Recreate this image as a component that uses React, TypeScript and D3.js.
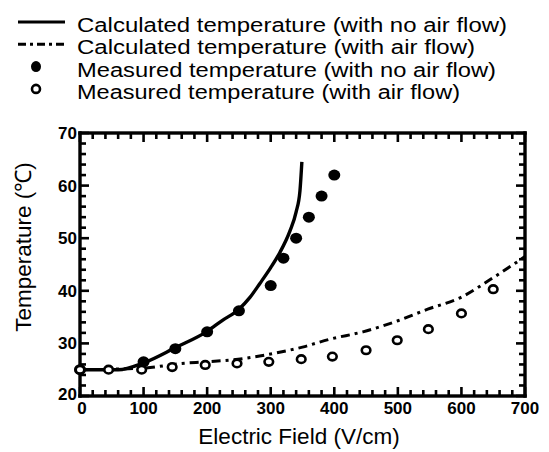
import React from "react";
import * as d3 from "d3";

// Calculated temperature, no air flow (solid curve)
const calcNoFlowX = [0, 60, 100, 150, 200, 223, 250, 267, 283, 300, 314, 330, 340, 346, 349];
const calcNoFlowY = [25, 25, 26.3, 29.2, 32.3, 34.3, 36.5, 38.7, 41.4, 44.4, 47.2, 51.3, 55, 59, 64.5];

// Calculated temperature, with air flow (dash-dot curve)
const calcFlowX = [0, 100, 160, 200, 262, 309, 350, 393, 445, 500, 547, 600, 650, 700];
const calcFlowY = [25, 25.3, 26.2, 26.5, 27.2, 28.2, 29.3, 30.8, 32.2, 34.3, 36.5, 38.8, 42.5, 46.5];

// Measured temperature, no air flow (filled dots)
const measNoFlowX = [0, 100, 150, 200, 250, 300, 320, 340, 360, 380, 400];
const measNoFlowY = [25, 26.5, 29, 32.2, 36.2, 41, 46.2, 50, 54, 58, 62];

// Measured temperature, with air flow (open circles)
const measFlowX = [0, 45, 97, 145, 197, 247, 297, 348, 397, 450, 499, 548, 600, 650];
const measFlowY = [25, 25, 25, 25.5, 25.9, 26.2, 26.5, 27, 27.5, 28.7, 30.6, 32.7, 35.7, 40.3];

const xTicks = [0, 100, 200, 300, 400, 500, 600, 700];
const yTicks = [20, 30, 40, 50, 60, 70];

const legendLabels = [
  "Calculated temperature (with no air flow)",
  "Calculated temperature (with air flow)",
  "Measured temperature (with no air flow)",
  "Measured temperature (with air flow)",
];
// widths the legend lines are set to
const legendWidths = [430, 398, 419, 383];

const W = 549;
const H = 452;
const M = { left: 80, right: 525, top: 133, bottom: 396 };
const FONT = "'Liberation Sans', Arial, Helvetica, sans-serif";
const TICK_W = 2.6;
const FRAME_W = 3.4;

export default function App() {
  const x = d3.scaleLinear().domain([0, 700]).range([M.left, M.right]);
  const y = d3.scaleLinear().domain([20, 70]).range([M.bottom, M.top]);

  const line = d3
    .line<[number, number]>()
    .x((d) => x(d[0]))
    .y((d) => y(d[1]))
    .curve(d3.curveMonotoneX);

  const solidPath = line(calcNoFlowX.map((v, i) => [v, calcNoFlowY[i]]) as [number, number][]) || "";
  const dashPath = line(calcFlowX.map((v, i) => [v, calcFlowY[i]]) as [number, number][]) || "";

  // Inward ticks on all four sides: minor every 20 V/cm and 2 ℃, longer at the labelled values
  const xMinor = d3.range(0, 701, 20);
  const yMinor = d3.range(20, 71, 2);

  const legendY = [22, 44.3, 66.6, 88.9];

  return (
    <svg width={W} height={H} style={{ position: "absolute", left: 0, top: 0, background: "#fff" }}>
      <rect width={W} height={H} fill="#fff" />

      {/* Legend */}
      <g fontFamily={FONT} fontSize={20} fill="#000">
        <path d={`M18,${legendY[0]}H65`} stroke="#000" strokeWidth={3} />
        <path d={`M18,${legendY[1]}H65`} stroke="#000" strokeWidth={3} strokeDasharray="8 4 3 4" />
        <ellipse cx={36} cy={legendY[2]} rx={5} ry={5.5} fill="#000" />
        <circle cx={36} cy={legendY[3]} r={4} fill="none" stroke="#000" strokeWidth={2.6} />
        {legendLabels.map((t, i) => (
          <text key={i} x={77} y={legendY[i] + 10} textLength={legendWidths[i]} lengthAdjust="spacingAndGlyphs">
            {t}
          </text>
        ))}
      </g>

      {/* Ticks */}
      <g fill="#000">
        {xMinor.map((v) => {
          const len = v % 100 === 0 ? 9 : 6;
          return (
            <g key={"xt" + v}>
              <rect x={x(v) - TICK_W / 2} y={M.bottom - len} width={TICK_W} height={len} />
              <rect x={x(v) - TICK_W / 2} y={M.top} width={TICK_W} height={len} />
            </g>
          );
        })}
        {yMinor.map((v) => {
          const len = v % 10 === 0 ? 9 : 6;
          return (
            <g key={"yt" + v}>
              <rect x={M.left} y={y(v) - TICK_W / 2} width={len} height={TICK_W} />
              <rect x={M.right - len} y={y(v) - TICK_W / 2} width={len} height={TICK_W} />
            </g>
          );
        })}
      </g>

      {/* Frame */}
      <g fill="#000">
        <rect x={M.left - FRAME_W / 2} y={M.top - FRAME_W / 2} width={M.right - M.left + FRAME_W} height={FRAME_W} />
        <rect x={M.left - FRAME_W / 2} y={M.bottom - FRAME_W / 2} width={M.right - M.left + FRAME_W} height={FRAME_W} />
        <rect x={M.left - FRAME_W / 2} y={M.top - FRAME_W / 2} width={FRAME_W} height={M.bottom - M.top + FRAME_W} />
        <rect x={M.right - FRAME_W / 2} y={M.top - FRAME_W / 2} width={FRAME_W} height={M.bottom - M.top + FRAME_W} />
      </g>

      {/* Tick labels */}
      <g fontFamily={FONT} fontSize={17} fontWeight="bold" fill="#000">
        {xTicks.map((v) => (
          <text key={"xl" + v} x={x(v) + (v === 0 ? 2 : 0)} y={M.bottom + 18} textAnchor="middle">
            {v}
          </text>
        ))}
        {yTicks.map((v) => (
          <text key={"yl" + v} x={M.left - 3} y={y(v) + (v === 20 ? 4 : 6)} textAnchor="end">
            {v}
          </text>
        ))}
      </g>

      {/* Axis titles */}
      <text x={299} y={444} textAnchor="middle" fontFamily={FONT} fontSize={22.5} fill="#000">
        Electric Field (V/cm)
      </text>
      <text
        transform={`translate(31, 247) rotate(-90)`}
        textAnchor="middle"
        fontFamily={FONT}
        fontSize={22.5}
        fill="#000"
      >
        Temperature (℃)
      </text>

      {/* Curves */}
      <path d={solidPath} fill="none" stroke="#000" strokeWidth={3.4} />
      <path d={dashPath} fill="none" stroke="#000" strokeWidth={3} strokeDasharray="9 5 3 5" />

      {/* Measured points */}
      {measNoFlowX.map((v, i) => (
        <ellipse key={"f" + i} cx={x(v)} cy={y(measNoFlowY[i])} rx={6} ry={5.5} fill="#000" />
      ))}
      {measFlowX.map((v, i) => (
        <ellipse
          key={"o" + i}
          cx={x(v)}
          cy={y(measFlowY[i])}
          rx={4.3}
          ry={3.8}
          fill="#fff"
          stroke="#000"
          strokeWidth={2.6}
        />
      ))}
    </svg>
  );
}
